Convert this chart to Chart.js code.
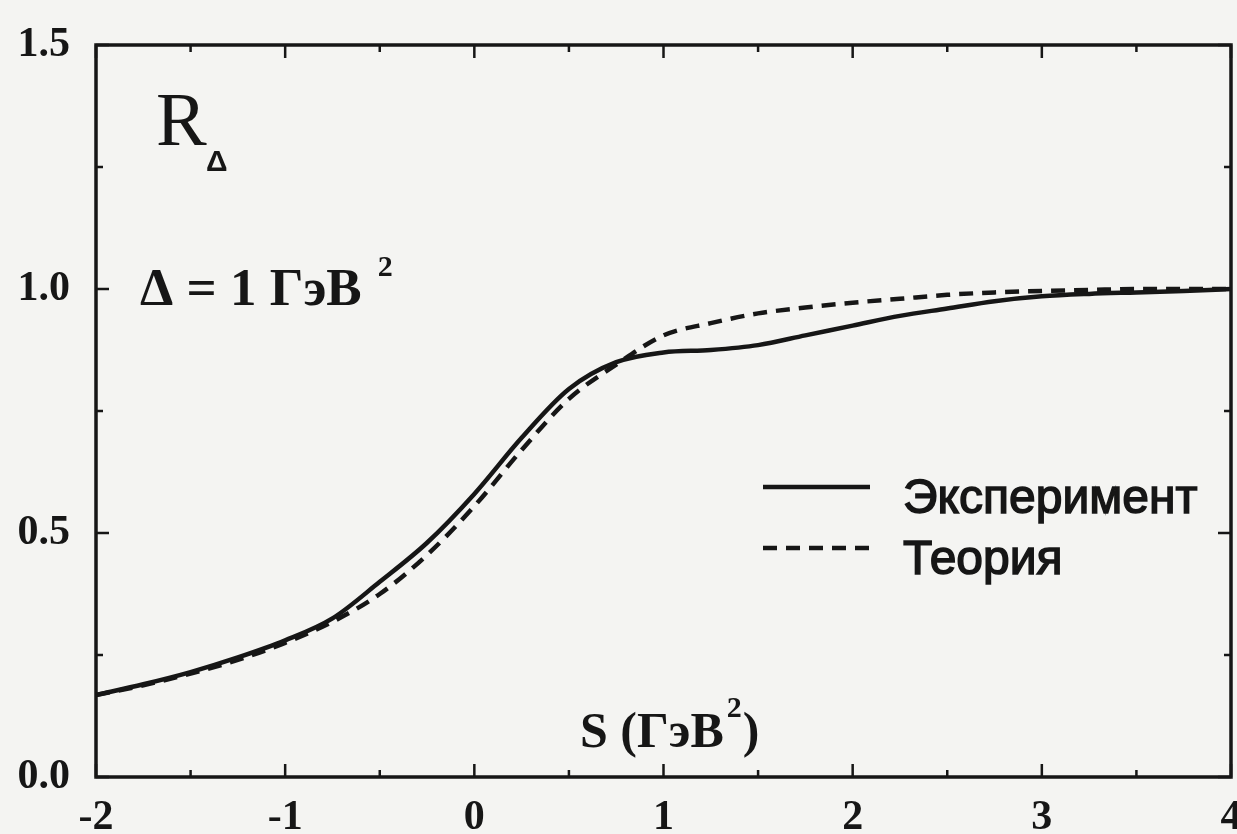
<!DOCTYPE html>
<html lang="ru">
<head>
<meta charset="UTF-8">
<title>R_Δ(S)</title>
<script src="https://cdn.jsdelivr.net/npm/chart.js"></script>
<style>
    html, body { margin: 0; padding: 0; background: #f4f4f2; overflow: hidden; }
    #wrap { position: relative; width: 1237px; height: 834px; }
</style>
</head>
<body>
<div id="wrap"><canvas id="rChart" width="1237" height="834"></canvas></div>
<script>
// S in GeV^2
const sValues    = [-2, -1.75, -1.5, -1.25, -1, -0.75, -0.5, -0.25, 0, 0.25, 0.5, 0.75, 1,
                    1.25, 1.5, 1.75, 2, 2.25, 2.5, 2.75, 3, 3.25, 3.5, 3.75, 4];
const experiment = [0.168, 0.19, 0.215, 0.245, 0.28, 0.325, 0.40, 0.48, 0.58, 0.695, 0.795, 0.85, 0.87,
                    0.875, 0.885, 0.905, 0.925, 0.945, 0.96, 0.975, 0.985, 0.99, 0.993, 0.996, 1.0];
const theory     = [0.168, 0.188, 0.212, 0.24, 0.275, 0.318, 0.375, 0.455, 0.555, 0.67, 0.775, 0.845, 0.905,
                    0.93, 0.95, 0.962, 0.972, 0.98, 0.988, 0.993, 0.996, 0.998, 1.0, 1.0, 1.0];
const xTickLabels = ['-2', '-1', '0', '1', '2', '3', '4'];
const yTickLabels = ['0.0', '0.5', '1.0', '1.5'];
const seriesNames = ['Эксперимент', 'Теория'];

const ink = '#161616';
const serif = '"Liberation Serif", "DejaVu Serif", serif';
const sans = '"Liberation Sans", Arial, sans-serif';

function toPoints(ys) {
    return sValues.map((s, i) => ({ x: s, y: ys[i] }));
}

// frame with inward major/minor ticks on all four sides
const framePlugin = {
    id: 'frame',
    afterDatasetsDraw(chart) {
        const { ctx, chartArea: a, scales: { x, y } } = chart;
        ctx.save();
        ctx.strokeStyle = ink;
        ctx.lineWidth = 3.5;
        ctx.strokeRect(a.left, a.top, a.right - a.left, a.bottom - a.top);
        ctx.lineWidth = 2.5;
        ctx.beginPath();
        for (let v = x.min; v <= x.max + 1e-9; v += 0.5) {
            const px = x.getPixelForValue(v);
            const len = Number.isInteger(v) ? 13 : 7;
            ctx.moveTo(px, a.bottom); ctx.lineTo(px, a.bottom - len);
            ctx.moveTo(px, a.top); ctx.lineTo(px, a.top + len);
        }
        for (let v = y.min; v <= y.max + 1e-9; v += 0.25) {
            const py = y.getPixelForValue(v);
            const len = Math.abs(v * 2 - Math.round(v * 2)) < 1e-6 ? 13 : 7;
            ctx.moveTo(a.left, py); ctx.lineTo(a.left + len, py);
            ctx.moveTo(a.right, py); ctx.lineTo(a.right - len, py);
        }
        ctx.stroke();
        ctx.restore();
    }
};

// in-plot annotations and the legend
const textPlugin = {
    id: 'texts',
    afterDraw(chart) {
        const { ctx } = chart;
        ctx.save();
        ctx.fillStyle = ink;
        ctx.textBaseline = 'alphabetic';

        ctx.font = '76px ' + serif;
        ctx.fillText('R', 156, 145);
        ctx.font = 'bold 30px ' + sans;
        ctx.fillText('Δ', 206, 171);

        ctx.font = 'bold 53px ' + serif;
        ctx.fillText('Δ = 1 ГэВ', 140, 305);
        let w = ctx.measureText('Δ = 1 ГэВ').width;
        ctx.font = 'bold 30px ' + serif;
        ctx.fillText('2', 140 + w + 16, 276);

        ctx.font = 'bold 50px ' + serif;
        ctx.fillText('S (ГэВ', 580, 747);
        w = ctx.measureText('S (ГэВ').width;
        ctx.font = 'bold 30px ' + serif;
        ctx.fillText('2', 580 + w + 3, 717);
        ctx.font = 'bold 50px ' + serif;
        ctx.fillText(')', 580 + w + 19, 747);

        // legend from the datasets
        const rows = [487, 548];
        chart.data.datasets.forEach((ds, i) => {
            const ly = rows[i];
            ctx.strokeStyle = ds.borderColor;
            ctx.lineWidth = ds.borderWidth;
            ctx.setLineDash(ds.borderDash || []);
            ctx.beginPath();
            ctx.moveTo(763, ly);
            ctx.lineTo(870, ly);
            ctx.stroke();
            ctx.setLineDash([]);
            ctx.font = '48px ' + sans;
            ctx.lineWidth = 1.5;
            ctx.strokeStyle = ink;
            ctx.fillText(ds.label, 903, ly + 26);
            ctx.strokeText(ds.label, 903, ly + 26);
        });
        ctx.restore();
    }
};

const ctx = document.getElementById('rChart').getContext('2d');
new Chart(ctx, {
    type: 'line',
    data: {
        datasets: [{
            label: seriesNames[0],
            data: toPoints(experiment),
            borderColor: ink,
            borderWidth: 4.5,
            pointRadius: 0,
            cubicInterpolationMode: 'monotone'
        }, {
            label: seriesNames[1],
            data: toPoints(theory),
            borderColor: ink,
            borderWidth: 4.5,
            borderDash: [14, 9],
            pointRadius: 0,
            cubicInterpolationMode: 'monotone'
        }]
    },
    options: {
        responsive: false,
        animation: false,
        layout: { padding: { top: 45, right: 6, left: 0, bottom: 0 } },
        plugins: { legend: { display: false }, tooltip: { enabled: false } },
        scales: {
            x: {
                type: 'linear', min: -2, max: 4,
                grid: { display: false },
                border: { display: false },
                ticks: {
                    stepSize: 1, padding: 8, color: ink, maxRotation: 0, autoSkip: false,
                    font: { family: serif, size: 42, weight: 'bold' },
                    callback: (v) => xTickLabels[Math.round(v) + 2]
                },
                afterFit(scale) { scale.height = 57; scale.paddingLeft = 0; scale.paddingRight = 0; }
            },
            y: {
                type: 'linear', min: 0, max: 1.5,
                grid: { display: false },
                border: { display: false },
                ticks: {
                    stepSize: 0.5, padding: 18, color: ink, autoSkip: false,
                    font: { family: serif, size: 42, weight: 'bold' },
                    callback: (v) => yTickLabels[Math.round(v * 2)]
                },
                afterFit(scale) { scale.width = 96; scale.paddingTop = 0; scale.paddingBottom = 0; }
            }
        }
    },
    plugins: [framePlugin, textPlugin]
});
</script>
</body>
</html>
